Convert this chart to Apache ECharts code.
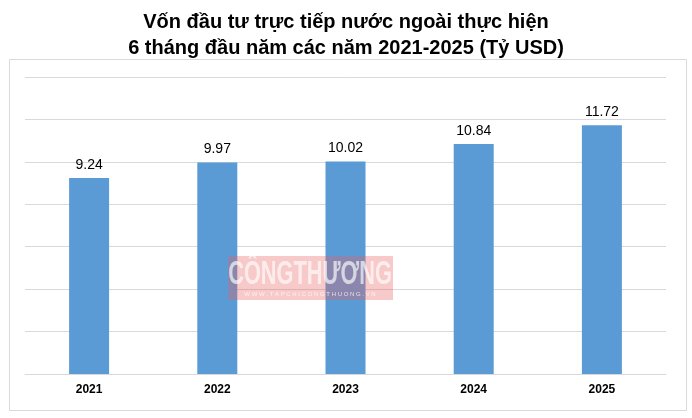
<!DOCTYPE html>
<html><head><meta charset="utf-8">
<script src="https://cdn.jsdelivr.net/npm/echarts@6/dist/echarts.min.js"></script>
<style>html,body{margin:0;padding:0;background:#fff}#c{width:692px;height:418px}</style>
</head><body><div id="c"></div>
<script>
const titleLines = ['Vốn đầu tư trực tiếp nước ngoài thực hiện', '6 tháng đầu năm các năm 2021-2025 (Tỷ USD)'];
const categories = ['2021', '2022', '2023', '2024', '2025'];
const values = [9.24, 9.97, 10.02, 10.84, 11.72];
const yMin = 0, yMax = 14, yStep = 2;

const chart = echarts.init(document.getElementById('c'), null, {renderer: 'canvas'});
chart.setOption({
  backgroundColor: '#fff',
  animation: false,
  title: {
    text: titleLines.join('\n'),
    left: 'center', top: 4,
    textStyle: {fontFamily: 'Liberation Sans, Arial', fontWeight: 'bold', fontSize: 20, color: '#000', lineHeight: 26}
  },
  grid: {left: 25, right: 26, top: 77, bottom: 44},
  xAxis: {
    type: 'category', data: categories,
    axisLine: {lineStyle: {color: '#D9D9D9', width: 1}},
    axisTick: {show: false},
    axisLabel: {fontFamily: 'Liberation Sans, Arial', fontWeight: 'bold', fontSize: 12, color: '#000', margin: 10}
  },
  yAxis: {
    type: 'value', min: yMin, max: yMax, interval: yStep,
    axisLabel: {show: false}, axisLine: {show: false}, axisTick: {show: false},
    splitLine: {lineStyle: {color: '#D9D9D9', width: 1}}
  },
  series: [{
    type: 'bar', data: values, barWidth: 40,
    itemStyle: {color: '#5B9BD5'},
    label: {show: true, position: 'top', distance: 6, fontFamily: 'Liberation Sans, Arial', fontSize: 14, color: '#000',
      formatter: p => p.value.toFixed(2)}
  }],
  graphic: [
    {type: 'rect', left: 7, top: 57, z: -1, silent: true,
     shape: {width: 677, height: 351}, style: {fill: 'none', stroke: '#D9D9D9', lineWidth: 1}},
    {type: 'rect', left: 228, top: 256, z: 100, silent: true,
     shape: {width: 165, height: 44}, style: {fill: 'rgba(235,90,90,0.33)'}},
    {type: 'group', x: 310, y: 275, scaleX: 0.66, scaleY: 1, z: 101, silent: true, children: [
      {type: 'text', x: 0, y: 0, z: 101, silent: true,
       style: {text: 'CÔNGTHƯƠNG', fontFamily: 'Liberation Sans, Arial', fontWeight: 'bold', fontSize: 33,
         fill: 'rgba(255,255,255,0.65)', align: 'center', verticalAlign: 'middle'}}
    ]},
    {type: 'text', x: 310, y: 294, z: 101, silent: true,
     style: {text: 'W W W . T A P C H I C O N G T H U O N G . V N', fontFamily: 'Liberation Sans, Arial', fontSize: 6,
       fill: 'rgba(255,255,255,0.75)', align: 'center', verticalAlign: 'middle'}}
  ]
});
</script></body></html>
